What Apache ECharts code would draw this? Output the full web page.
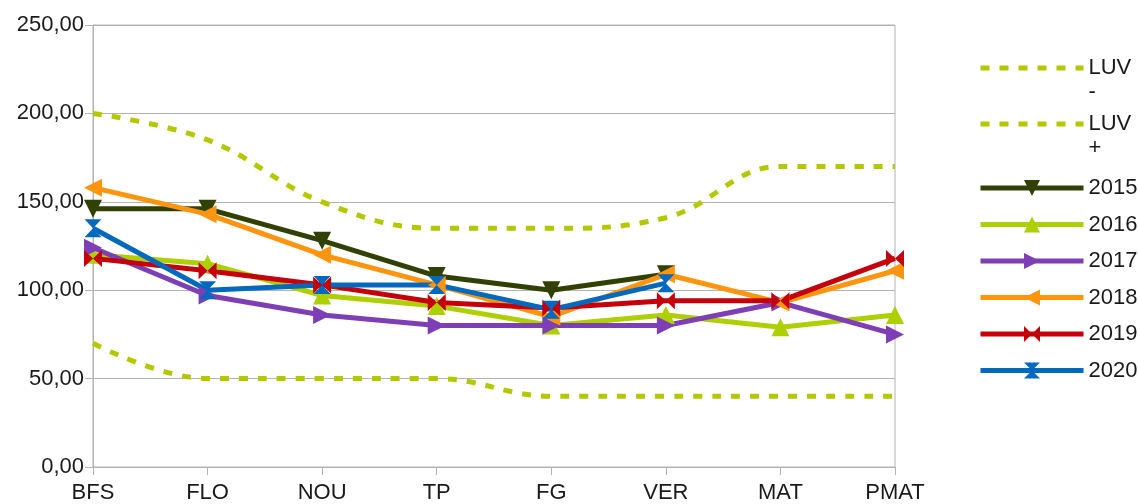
<!DOCTYPE html>
<html>
<head>
<meta charset="utf-8">
<script src="https://cdn.jsdelivr.net/npm/echarts@6/dist/echarts.min.js"></script>
<style>
html,body{margin:0;padding:0;background:#fff;}
#chart{width:1138px;height:504px;}
</style>
</head>
<body>
<div id="chart"></div>
<script>
var categories = ['BFS', 'FLO', 'NOU', 'TP', 'FG', 'VER', 'MAT', 'PMAT'];
var yTicks = [0, 50, 100, 150, 200, 250];

var luvMinus = [70, 50, 50, 50, 40, 40, 40, 40];
var luvPlus = [200, 185, 150, 135, 135, 141, 170, 170];
var y2015 = [146, 146, 128, 108, 100, 109, null, null];
var y2016 = [120, 115, 97, 91, 80, 86, 79, 86];
var y2017 = [124, 97, 86, 80, 80, 80, 93, 75];
var y2018 = [158, 143, 120, 103, 85, 109, 93, 111];
var y2019 = [118, 111, 103, 93, 90, 94, 94, 118];
var y2020 = [135, 100, 103, 103, 89, 104, null, null];

var FONT = '"Liberation Sans", Arial, sans-serif';
var TXT = '#1a1a1a';
// two triangles meeting in the middle
var bowtie = 'path://M0,0 L10,5 L0,10 Z M20,0 L10,5 L20,10 Z';

var myChart = echarts.init(document.getElementById('chart'));

function luvSeries(name, data) {
    return {
        name: name,
        type: 'line',
        smooth: 0.4,
        symbol: 'none',
        lineStyle: {color: '#b4c800', width: 5, type: [9, 10]},
        itemStyle: {color: '#b4c800'},
        data: data
    };
}

function yearSeries(name, data, color, symbol, rotate, size) {
    return {
        name: name,
        type: 'line',
        symbol: symbol,
        symbolRotate: rotate,
        symbolSize: size,
        showSymbol: true,
        lineStyle: {color: color, width: 5},
        itemStyle: {color: color},
        data: data
    };
}

function luvLegend(name, top) {
    return {
        data: [name], orient: 'vertical', left: 978, top: top, padding: 0,
        itemWidth: 103, itemHeight: 20,
        itemStyle: {opacity: 0},
        lineStyle: {width: 5},
        textStyle: {fontFamily: FONT, fontSize: 22, color: TXT, lineHeight: 24},
        // blank first line so "LUV" sits level with the icon and the sign goes below
        formatter: function (n) { return '\n' + n.replace(' ', '\n'); }
    };
}

var option = {
    animation: false,
    grid: {left: 93, right: 243, top: 25, bottom: 37, show: true, borderColor: '#b3b3b3', borderWidth: 1},
    legend: [
        luvLegend('LUV -', 32),
        luvLegend('LUV +', 88),
        {
            data: ['2015', '2016', '2017', '2018', '2019', '2020'], orient: 'vertical', left: 978, top: 176, padding: 0,
            itemWidth: 103, itemHeight: 20, itemGap: 12.5,
            lineStyle: {width: 5},
            textStyle: {fontFamily: FONT, fontSize: 22, color: TXT, lineHeight: 24}
        }
    ],
    xAxis: {
        type: 'category',
        data: categories,
        boundaryGap: false,
        axisLine: {lineStyle: {color: '#b3b3b3'}},
        axisTick: {show: true, alignWithLabel: true, length: 8, lineStyle: {color: '#b3b3b3'}},
        axisLabel: {fontFamily: FONT, fontSize: 22, color: TXT, margin: 15},
        splitLine: {show: false}
    },
    yAxis: {
        type: 'value',
        min: yTicks[0],
        max: yTicks[yTicks.length - 1],
        interval: 50,
        axisLine: {show: true, lineStyle: {color: '#b3b3b3'}},
        axisTick: {show: true, length: 8, lineStyle: {color: '#b3b3b3'}},
        axisLabel: {
            fontFamily: FONT, fontSize: 22, color: TXT, margin: 9,
            formatter: function (v) { return v.toFixed(2).replace('.', ','); }
        },
        splitLine: {lineStyle: {color: '#b3b3b3'}}
    },
    series: [
        luvSeries('LUV -', luvMinus),
        luvSeries('LUV +', luvPlus),
        yearSeries('2015', y2015, '#314004', 'triangle', 180, 18),
        yearSeries('2016', y2016, '#aecf00', 'triangle', 0, 18),
        yearSeries('2017', y2017, '#7e3fb6', 'triangle', -90, 18),
        yearSeries('2018', y2018, '#ff950e', 'triangle', 90, 18),
        yearSeries('2019', y2019, '#c5000b', bowtie, 0, [18, 17]),
        yearSeries('2020', y2020, '#0369bf', bowtie, 90, [18, 17])
    ]
};

myChart.setOption(option);
</script>
</body>
</html>
